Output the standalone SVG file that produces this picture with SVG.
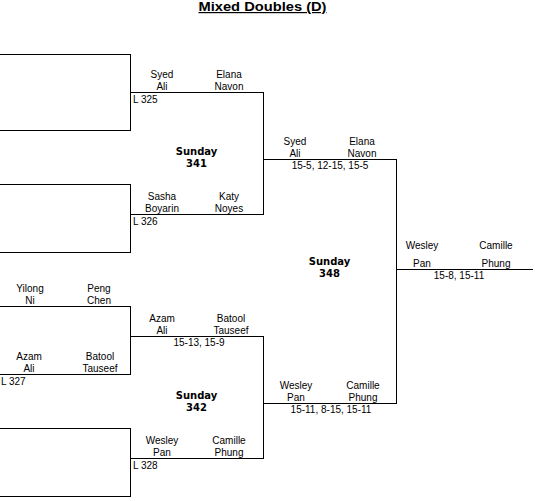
<svg xmlns="http://www.w3.org/2000/svg" width="535" height="501" viewBox="0 0 535 501">
<style>
.t{font-family:"Liberation Sans",Arial,sans-serif;font-size:10px;fill:#000;text-anchor:middle}
.l{font-family:"Liberation Sans",Arial,sans-serif;font-size:10px;fill:#000}
.b{font-family:"DejaVu Sans","Liberation Sans",sans-serif;font-size:10px;font-weight:bold;fill:#000;text-anchor:middle}
.ttl{font-family:"Liberation Sans",Arial,sans-serif;font-size:12px;font-weight:bold;fill:#000;text-anchor:middle;text-decoration:underline}
.ln{stroke:#000;stroke-width:1;fill:none;shape-rendering:crispEdges}
</style>
<rect width="535" height="501" fill="#fff"/>
<text class="ttl" x="262.5" y="11" textLength="128" lengthAdjust="spacingAndGlyphs">Mixed Doubles (D)</text>
<g id="connectors">
<path class="ln" d="M0 54.5H130.5V130.5H0"/>
<path class="ln" d="M0 184.5H130.5V252.5H0"/>
<path class="ln" d="M0 306.5H130.5V374.5H0"/>
<path class="ln" d="M0 428.5H130.5V496.5H0"/>
<path class="ln" d="M130.5 92.5H263.5V214.5H130.5"/>
<path class="ln" d="M130.5 336.5H263.5V458.5H130.5"/>
<path class="ln" d="M263.5 159.5H396.5V403.5H263.5"/>
<path class="ln" d="M396.5 269.5H533"/>
</g>
<g id="r325">
<text class="t" x="162" y="78">Syed</text><text class="t" x="162" y="90">Ali</text>
<text class="t" x="229" y="78">Elana</text><text class="t" x="229" y="90">Navon</text>
<text class="l" x="133" y="103">L 325</text>
</g>
<g id="r326">
<text class="t" x="162" y="200">Sasha</text><text class="t" x="162" y="212">Boyarin</text>
<text class="t" x="229" y="200">Katy</text><text class="t" x="229" y="212">Noyes</text>
<text class="l" x="133" y="225">L 326</text>
</g>
<g id="r327a">
<text class="t" x="30" y="292">Yilong</text><text class="t" x="30" y="304">Ni</text>
<text class="t" x="99" y="292">Peng</text><text class="t" x="99" y="304">Chen</text>
</g>
<g id="r327b">
<text class="t" x="29" y="360">Azam</text><text class="t" x="29" y="372">Ali</text>
<text class="t" x="100" y="360">Batool</text><text class="t" x="100" y="372">Tauseef</text>
<text class="l" x="1" y="385">L 327</text>
</g>
<g id="r328">
<text class="t" x="162" y="444">Wesley</text><text class="t" x="162" y="456">Pan</text>
<text class="t" x="229" y="444">Camille</text><text class="t" x="229" y="456">Phung</text>
<text class="l" x="133" y="469">L 328</text>
</g>
<g id="m341">
<text class="b" x="196.5" y="155">Sunday</text><text class="b" x="196.5" y="167">341</text>
</g>
<g id="w341">
<text class="t" x="295" y="145">Syed</text><text class="t" x="295" y="157">Ali</text>
<text class="t" x="362" y="145">Elana</text><text class="t" x="362" y="157">Navon</text>
<text class="t" x="330" y="169">15-5, 12-15, 15-5</text>
</g>
<g id="w327">
<text class="t" x="162" y="322">Azam</text><text class="t" x="162" y="334">Ali</text>
<text class="t" x="231" y="322">Batool</text><text class="t" x="231" y="334">Tauseef</text>
<text class="t" x="199" y="346">15-13, 15-9</text>
</g>
<g id="m342">
<text class="b" x="196.5" y="399">Sunday</text><text class="b" x="196.5" y="411">342</text>
</g>
<g id="w342">
<text class="t" x="296" y="389">Wesley</text><text class="t" x="296" y="401">Pan</text>
<text class="t" x="363" y="389">Camille</text><text class="t" x="363" y="401">Phung</text>
<text class="t" x="331" y="413">15-11, 8-15, 15-11</text>
</g>
<g id="m348">
<text class="b" x="329.5" y="265">Sunday</text><text class="b" x="329.5" y="277">348</text>
</g>
<g id="w348">
<text class="t" x="422" y="249">Wesley</text><text class="t" x="422" y="267">Pan</text>
<text class="t" x="496" y="249">Camille</text><text class="t" x="496" y="267">Phung</text>
<text class="t" x="459" y="279">15-8, 15-11</text>
</g>
</svg>
